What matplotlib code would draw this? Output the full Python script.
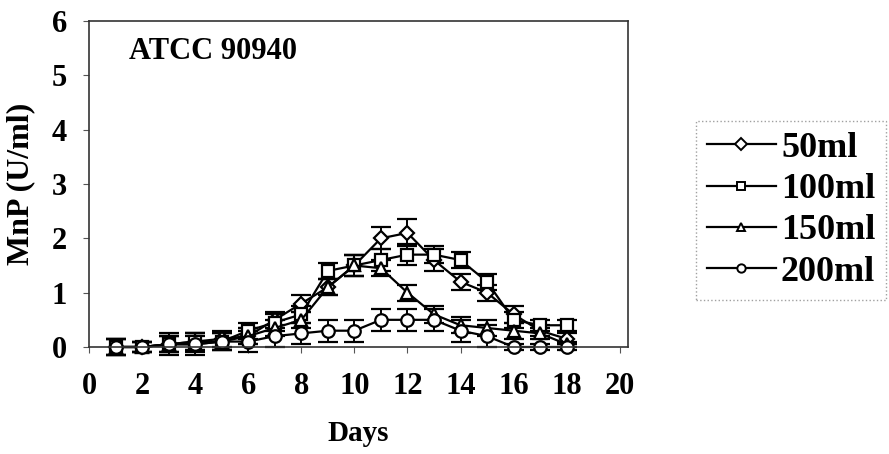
import matplotlib
matplotlib.use('Agg')
import matplotlib.pyplot as plt
from matplotlib.lines import Line2D

# MnP activity per culture volume
days = [1, 2, 3, 4, 5, 6, 7, 8, 9, 10, 11, 12, 13, 14, 15, 16, 17, 18]
mnp_50 = [0.0, 0.0, 0.05, 0.1, 0.15, 0.2, 0.5, 0.8, 1.1, 1.5, 2.0, 2.1, 1.6, 1.2, 1.0, 0.6, 0.3, 0.15]
err_50 = [0.15, 0.1, 0.15, 0.15, 0.15, 0.15, 0.15, 0.15, 0.15, 0.2, 0.2, 0.25, 0.2, 0.15, 0.15, 0.15, 0.1, 0.1]
mnp_100 = [0.0, 0.0, 0.05, 0.1, 0.1, 0.3, 0.45, 0.6, 1.4, 1.5, 1.6, 1.7, 1.7, 1.6, 1.2, 0.5, 0.4, 0.4]
err_100 = [0.15, 0.1, 0.15, 0.15, 0.15, 0.15, 0.15, 0.15, 0.15, 0.2, 0.2, 0.2, 0.15, 0.15, 0.15, 0.15, 0.1, 0.1]
mnp_150 = [0.0, 0.0, 0.05, 0.05, 0.1, 0.2, 0.35, 0.5, 1.1, 1.5, 1.45, 1.0, 0.6, 0.4, 0.35, 0.3, 0.25, 0.05]
err_150 = [0.15, 0.1, 0.15, 0.15, 0.15, 0.15, 0.15, 0.15, 0.15, 0.2, 0.15, 0.15, 0.15, 0.15, 0.15, 0.15, 0.1, 0.05]
mnp_200 = [0.0, 0.0, 0.05, 0.05, 0.1, 0.1, 0.2, 0.25, 0.3, 0.3, 0.5, 0.5, 0.5, 0.3, 0.2, 0.0, 0.0, 0.0]
err_200 = [0.15, 0.1, 0.2, 0.2, 0.15, 0.2, 0.2, 0.2, 0.2, 0.2, 0.2, 0.2, 0.2, 0.2, 0.2, 0.05, 0.05, 0.05]

labels = ['50ml', '100ml', '150ml', '200ml']
markers = ['D', 's', '^', 'o']
msizes = [7, 9, 9, 9]

plt.rcParams['font.family'] = ['Liberation Serif', 'DejaVu Serif']
plt.rcParams['font.weight'] = 'bold'

fig = plt.figure(figsize=(8.89, 4.54), dpi=100)
ax = fig.add_axes([0.1001, 0.2357, 0.6060, 0.7180])

series = [(mnp_50, err_50), (mnp_100, err_100), (mnp_150, err_150), (mnp_200, err_200)]
for (vals, errs), m, ms in zip(series, markers, msizes):
    line, caps, bars = ax.errorbar(days, vals, yerr=errs, color='black', lw=1.6,
                                   marker=m, ms=ms, mfc='white', mec='black',
                                   mew=1.6, capsize=7, capthick=1.6, elinewidth=1.4)
    line.set_clip_on(False)
    for c in caps:
        c.set_clip_on(False)
    for b in bars:
        b.set_clip_on(False)

ax.set_xlim(0, 20.3)
ax.set_ylim(0, 6)
ax.set_xticks(range(0, 21, 2))
ax.set_yticks(range(0, 7))
ax.tick_params(axis='both', labelsize=22, width=0.8, length=4, color='#555555')
ax.tick_params(axis='x', direction='out', pad=14)
ax.tick_params(axis='y', direction='out', pad=12)
for lab in ax.get_xticklabels() + ax.get_yticklabels():
    lab.set_fontweight('bold')
for sp in ax.spines.values():
    sp.set_linewidth(1.2)
    sp.set_color('#333333')

ax.set_xlabel('Days', fontsize=21, fontweight='bold', labelpad=14)
ax.set_ylabel('MnP (U/ml)', fontsize=23, fontweight='bold', labelpad=12)
ax.text(0.075, 0.905, 'ATCC 90940', transform=ax.transAxes, fontsize=22,
        fontweight='bold', va='center', ha='left')

handles = [Line2D([], [], color='black', lw=1.6, marker=m, ms=6, mfc='white',
                  mec='black', mew=1.4) for m in markers]
leg = fig.legend(handles, labels, loc='center left', bbox_to_anchor=(0.783, 0.537),
                 prop={'weight': 'bold', 'size': 26}, frameon=True,
                 fancybox=False, handlelength=1.9, handletextpad=0.15,
                 labelspacing=0.22, borderpad=0.3, borderaxespad=0)
frame = leg.get_frame()
frame.set_edgecolor('#888888')
frame.set_linestyle(':')
frame.set_linewidth(1.0)

fig.savefig('out.png', dpi=100, facecolor='white')
